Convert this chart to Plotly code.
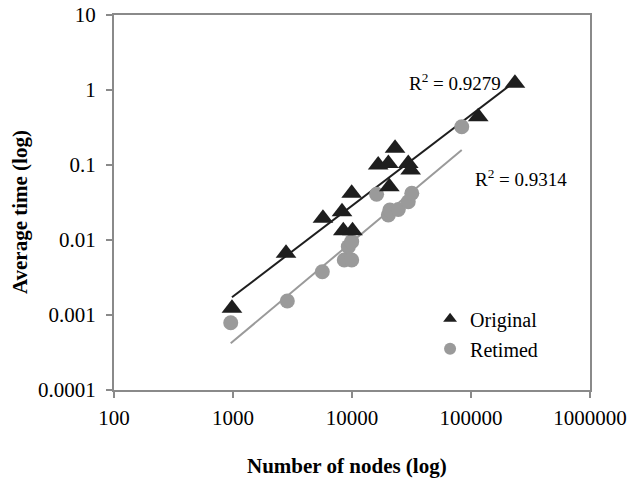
import numpy as np
import plotly.graph_objects as go

# --- data -------------------------------------------------------------
orig_nodes = [980, 2790, 5700, 8240, 8450, 10100, 9940, 16600, 20200,
              23000, 20600, 29700, 31100, 115000, 234000]
orig_time = [0.00123, 0.00665, 0.0195, 0.0238, 0.0133, 0.0133, 0.042, 0.100,
             0.105, 0.167, 0.0514, 0.105, 0.0858, 0.44, 1.23]

ret_nodes = [957, 2860, 5630, 8610, 9940, 9310, 9940, 16100, 20200,
             20800, 24500, 29700, 31800, 83600]
ret_time = [0.00079, 0.00154, 0.00378, 0.0054, 0.0054, 0.00815, 0.0095,
            0.0407, 0.0215, 0.0251, 0.0255, 0.0324, 0.042, 0.324]

# power-law trend lines  t = a * n^b
orig_fit = (4.14e-7, 1.21)
ret_fit = (4.65e-8, 1.327)
orig_r2 = "0.9279"
ret_r2 = "0.9314"

x_ticks = [100, 1000, 10000, 100000, 1000000]
x_ticklabels = ["100", "1000", "10000", "100000", "1000000"]
y_ticks = [0.0001, 0.001, 0.01, 0.1, 1, 10]
y_ticklabels = ["0.0001", "0.001", "0.01", "0.1", "1", "10"]

SERIF = "Liberation Serif, Times New Roman, serif"
DARK = "#1e1e1e"
GREY = "#9a9a9a"
AXIS = "#8a8a8a"


def trend(nodes, fit):
    xs = np.logspace(np.log10(min(nodes)), np.log10(max(nodes)), 60)
    return xs, fit[0] * xs ** fit[1]


fig = go.Figure()

tx, ty = trend(orig_nodes, orig_fit)
fig.add_trace(go.Scatter(x=tx, y=ty, mode="lines", showlegend=False,
                         line=dict(color=DARK, width=2), hoverinfo="skip"))
tx, ty = trend(ret_nodes, ret_fit)
fig.add_trace(go.Scatter(x=tx, y=ty, mode="lines", showlegend=False,
                         line=dict(color=GREY, width=2), hoverinfo="skip"))

fig.add_trace(go.Scatter(x=ret_nodes, y=ret_time, mode="markers", name="Retimed",
                         legendrank=2, legendgroup="r",
                         marker=dict(symbol="circle", size=15, color=GREY)))
fig.add_trace(go.Scatter(x=orig_nodes, y=orig_time, mode="markers", name="Original",
                         legendrank=1, legendgroup="o",
                         marker=dict(symbol="triangle-up", size=18, color=DARK)))

axis_common = dict(
    type="log", showline=True, linecolor=AXIS, linewidth=2, mirror=True,
    ticks="outside", ticklen=6, tickwidth=1.5, tickcolor=AXIS,
    showgrid=False, zeroline=False, automargin=False,
    tickfont=dict(family=SERIF, size=21, color="black"),
)

fig.update_xaxes(range=[2, 6], tickvals=x_ticks, ticktext=x_ticklabels,
                 ticklabelstandoff=2, **axis_common)
fig.update_yaxes(range=[-4, 1], tickvals=y_ticks, ticktext=y_ticklabels,
                 ticklabelstandoff=6, **axis_common)

fig.add_annotation(x=np.log10(29000), y=0.105, xref="x", yref="y",
                   text="R<sup>2</sup> = " + orig_r2, showarrow=False,
                   xanchor="left", yanchor="middle",
                   font=dict(family=SERIF, size=19, color="black"))
fig.add_annotation(x=np.log10(104000), y=-1.17, xref="x", yref="y",
                   text="R<sup>2</sup> = " + ret_r2, showarrow=False,
                   xanchor="left", yanchor="middle",
                   font=dict(family=SERIF, size=19, color="black"))

fig.add_annotation(x=-0.197, y=0.475, xref="paper", yref="paper",
                   text="<b>Average time (log)</b>", textangle=-90, showarrow=False,
                   xanchor="center", yanchor="middle",
                   font=dict(family=SERIF, size=21, color="black"))
fig.add_annotation(x=0.49, y=-0.203, xref="paper", yref="paper",
                   text="<b>Number of nodes (log)</b>", showarrow=False,
                   xanchor="center", yanchor="middle",
                   font=dict(family=SERIF, size=21, color="black"))

fig.update_layout(
    width=631, height=486,
    margin=dict(l=114, r=41, t=15, b=96),
    paper_bgcolor="white", plot_bgcolor="white",
    legend=dict(x=0.664, y=0.242, xanchor="left", yanchor="top",
                font=dict(family=SERIF, size=20, color="black"),
                itemsizing="constant", tracegroupgap=1,
                bgcolor="rgba(0,0,0,0)"),
)

fig.write_html("out.html")
